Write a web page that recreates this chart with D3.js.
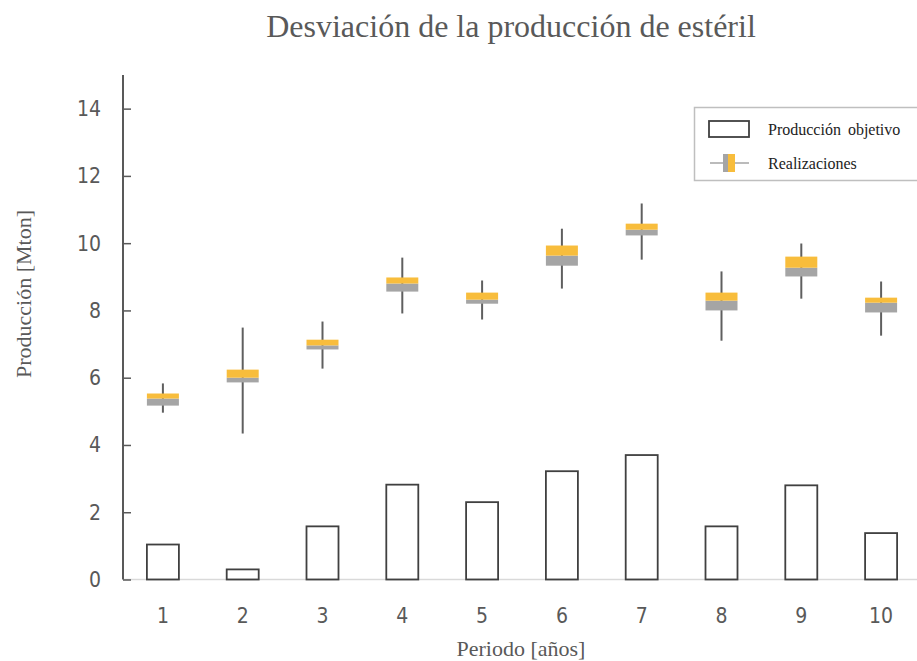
<!DOCTYPE html>
<html>
<head>
<meta charset="utf-8">
<script src="https://cdn.jsdelivr.net/npm/d3@7"></script>
<style>
  body { margin: 0; background: #fff; }
  .tick-label { font-family: "Liberation Sans Narrow", "DejaVu Sans Condensed", "Liberation Sans", sans-serif; font-size: 21px; fill: #595959; }
  .serif { font-family: "Liberation Serif", "DejaVu Serif", serif; fill: #595959; }
</style>
</head>
<body>
<div id="chart"></div>
<script>
// data
const periods = [1, 2, 3, 4, 5, 6, 7, 8, 9, 10];
const objetivo = [1.04, 0.3, 1.58, 2.82, 2.3, 3.22, 3.7, 1.58, 2.8, 1.38];
const whiskerLow = [4.96, 4.34, 6.27, 7.91, 7.73, 8.65, 9.51, 7.1, 8.35, 7.25];
const q1 = [5.17, 5.86, 6.84, 8.56, 8.2, 9.33, 10.23, 8.0, 9.01, 7.94];
const median = [5.38, 6.0, 6.96, 8.8, 8.32, 9.63, 10.4, 8.29, 9.27, 8.23];
const q3 = [5.53, 6.24, 7.13, 8.98, 8.53, 9.93, 10.58, 8.53, 9.6, 8.38];
const whiskerHigh = [5.83, 7.49, 7.67, 9.57, 8.89, 10.43, 11.18, 9.16, 9.99, 8.86];
const yTicks = [0, 2, 4, 6, 8, 10, 12, 14];

const W = 917, H = 661;
const plotLeft = 123, plotRight = 921, plotTop = 75, plotBottom = 579.5;
const barW = 32;

const svg = d3.select("#chart").append("svg")
    .attr("width", W)
    .attr("height", H);

const x = d3.scaleBand().domain(periods).range([plotLeft, plotRight]).padding(0);
const y = d3.scaleLinear().domain([0, 15]).range([plotBottom, plotTop]);

const rows = periods.map(function(p, i) {
    return { p: p, obj: objetivo[i], lo: whiskerLow[i], q1: q1[i], med: median[i], q3: q3[i], hi: whiskerHigh[i] };
});

// title
svg.append("text")
    .attr("class", "serif")
    .attr("x", 511).attr("y", 37)
    .attr("text-anchor", "middle")
    .style("font-size", "32px")
    .text("Desviación de la producción de estéril");

// x axis line (light)
svg.append("line")
    .attr("x1", plotLeft).attr("x2", W)
    .attr("y1", plotBottom).attr("y2", plotBottom)
    .attr("stroke", "#d9d9d9").attr("stroke-width", 1.5);

// y axis
const yAxis = svg.append("g")
    .attr("transform", "translate(" + plotLeft + ",0)")
    .call(d3.axisRight(y).tickValues(yTicks).tickSize(8).tickFormat(""));
yAxis.select(".domain").remove();
yAxis.selectAll(".tick line").attr("stroke", "#595959").attr("stroke-width", 1.5);
svg.append("line")
    .attr("x1", plotLeft).attr("x2", plotLeft)
    .attr("y1", plotTop).attr("y2", plotBottom)
    .attr("stroke", "#595959").attr("stroke-width", 2);

svg.append("g").selectAll("text")
    .data(yTicks).enter().append("text")
    .attr("class", "tick-label")
    .attr("x", 101).attr("y", function(d) { return y(d); })
    .attr("dy", "0.35em")
    .attr("text-anchor", "end")
    .text(function(d) { return d; });

svg.append("g").selectAll("text")
    .data(periods).enter().append("text")
    .attr("class", "tick-label")
    .attr("x", function(d) { return x(d) + x.bandwidth() / 2; })
    .attr("y", 623)
    .attr("text-anchor", "middle")
    .text(function(d) { return d; });

// axis titles
svg.append("text")
    .attr("class", "serif")
    .attr("x", 521).attr("y", 656)
    .attr("text-anchor", "middle")
    .style("font-size", "22px")
    .text("Periodo [años]");

svg.append("text")
    .attr("class", "serif")
    .attr("transform", "translate(31,294) rotate(-90)")
    .attr("text-anchor", "middle")
    .style("font-size", "22px")
    .text("Producción [Mton]");

// target bars
svg.append("g").selectAll("rect")
    .data(rows).enter().append("rect")
    .attr("x", function(d) { return x(d.p) + x.bandwidth() / 2 - barW / 2; })
    .attr("y", function(d) { return y(d.obj); })
    .attr("width", barW)
    .attr("height", function(d) { return y(0) - y(d.obj); })
    .attr("fill", "none")
    .attr("stroke", "#404040")
    .attr("stroke-width", 1.8);

// realizations: whiskers + two-tone box
const box = svg.append("g").selectAll("g")
    .data(rows).enter().append("g")
    .attr("transform", function(d) { return "translate(" + (x(d.p) + x.bandwidth() / 2) + ",0)"; });

box.append("line")
    .attr("x1", 0).attr("x2", 0)
    .attr("y1", function(d) { return y(d.hi); })
    .attr("y2", function(d) { return y(d.lo); })
    .attr("stroke", "#5f5f5f").attr("stroke-width", 2);

box.append("rect")
    .attr("x", -barW / 2).attr("width", barW)
    .attr("y", function(d) { return y(d.med); })
    .attr("height", function(d) { return y(d.q1) - y(d.med); })
    .attr("fill", "#a5a5a5");

box.append("rect")
    .attr("x", -barW / 2).attr("width", barW)
    .attr("y", function(d) { return y(d.q3); })
    .attr("height", function(d) { return y(d.med) - y(d.q3); })
    .attr("fill", "#f8bd3c");

// legend
const lg = svg.append("g");
lg.append("rect")
    .attr("x", 694.5).attr("y", 107.5)
    .attr("width", 240).attr("height", 73)
    .attr("fill", "#fff")
    .attr("stroke", "#bfbfbf").attr("stroke-width", 1.5);

lg.append("rect")
    .attr("x", 709).attr("y", 121)
    .attr("width", 40).attr("height", 16)
    .attr("fill", "none")
    .attr("stroke", "#404040").attr("stroke-width", 1.8);

lg.append("line")
    .attr("x1", 710).attr("x2", 749)
    .attr("y1", 163).attr("y2", 163)
    .attr("stroke", "#a5a5a5").attr("stroke-width", 1.5);
lg.append("rect")
    .attr("x", 723).attr("y", 154).attr("width", 5).attr("height", 18)
    .attr("fill", "#a5a5a5");
lg.append("rect")
    .attr("x", 728).attr("y", 154).attr("width", 7).attr("height", 18)
    .attr("fill", "#f8bd3c");

lg.append("text")
    .attr("class", "serif")
    .attr("x", 768).attr("y", 135)
    .style("font-size", "16px").style("fill", "#222")
    .style("word-spacing", "3px")
    .text("Producción objetivo");
lg.append("text")
    .attr("class", "serif")
    .attr("x", 768).attr("y", 169)
    .style("font-size", "16px").style("fill", "#222")
    .text("Realizaciones");
</script>
</body>
</html>
